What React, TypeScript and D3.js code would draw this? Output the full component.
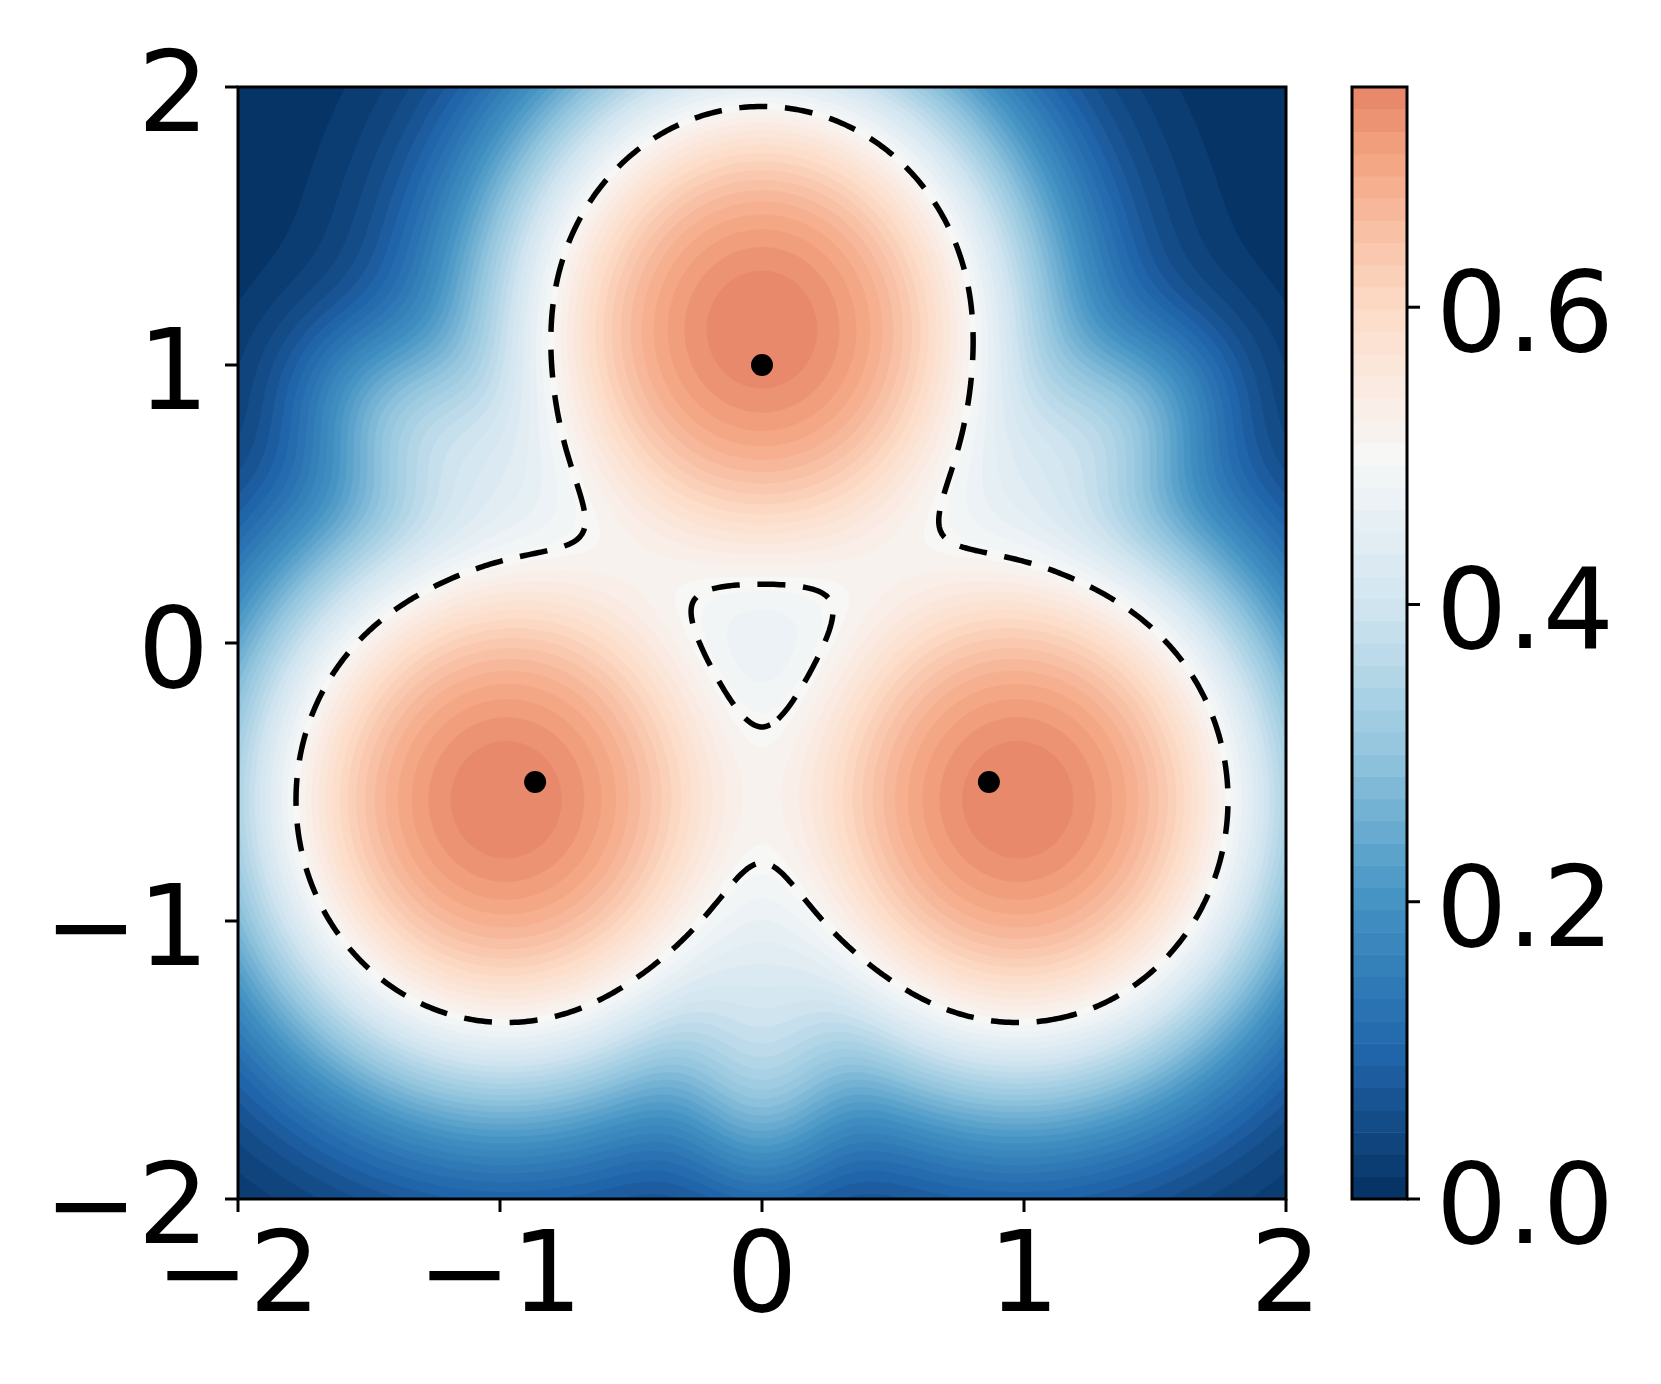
import React, { useMemo } from "react";
import * as d3 from "d3";

// ---------- data ----------
const POINT_X = [0, -0.866, 0.866];
const POINT_Y = [1, -0.5, -0.5];

// field model: three bumps + smaller lobes that fill the gaps between them
const BUMP_ANGLE_DEG = [90, 210, 330];
const BUMP_RADIUS = 1.13;
const BUMP_WIDTH = 0.505;
const GAP_ANGLE_DEG = [30, 150, 270];
const GAP_RADIUS = 1.45;
const GAP_RADIAL_WIDTH = 0.3;
const GAP_TANGENT_WIDTH = 0.2;
const GAP_WEIGHT = 0.085;
const HILL_A = 1.0489;
const HILL_K = 0.3204;
const HILL_G = 0.8;

const CONTOUR_LEVEL = [0.5];
const N_BANDS = 50;

const X_TICKS = [-2, -1, 0, 1, 2];
const Y_TICKS = [-2, -1, 0, 1, 2];
const CBAR_TICKS = [0, 0.2, 0.4, 0.6];

const RDBU = ["#67001f", "#b2182b", "#d6604d", "#f4a582", "#fddbc7", "#f7f7f7", "#d1e5f0", "#92c5de", "#4393c3", "#2166ac", "#053061"];

// ---------- layout ----------
const W = 1661, H = 1384;
const PLOT = { left: 238, top: 87, right: 1286, bottom: 1199 };
const CBAR = { left: 1352, right: 1407 };
const FONT = 112;
const TICK = 13;
const LW = 3;

const rad = (a: number) => (a * Math.PI) / 180;
const bumps = BUMP_ANGLE_DEG.map((a) => [BUMP_RADIUS * Math.cos(rad(a)), BUMP_RADIUS * Math.sin(rad(a))]);
const gaps = GAP_ANGLE_DEG.map((a) => [Math.cos(rad(a)), Math.sin(rad(a))]);

function field(x: number, y: number) {
  let h = 0;
  for (const [cx, cy] of bumps) {
    const d2 = (x - cx) ** 2 + (y - cy) ** 2;
    h += Math.exp(-d2 / (2 * BUMP_WIDTH * BUMP_WIDTH));
  }
  for (const [ux, uy] of gaps) {
    const rho = x * ux + y * uy - GAP_RADIUS;
    const t = -x * uy + y * ux;
    h += GAP_WEIGHT * Math.exp(-(rho * rho) / (2 * GAP_RADIAL_WIDTH ** 2) - (t * t) / (2 * GAP_TANGENT_WIDTH ** 2));
  }
  return HILL_A / (1 + Math.pow(HILL_K / Math.max(h, 1e-300), HILL_G));
}

const cmapScale = d3
  .scaleLinear<string>()
  .domain(d3.range(11).map((i) => i / 10))
  .range(RDBU.slice().reverse())
  .interpolate(d3.interpolateRgb)
  .clamp(true);

export default function App() {
  const N = 320;
  const xScale = d3.scaleLinear().domain([-2, 2]).range([PLOT.left, PLOT.right]);
  const yScale = d3.scaleLinear().domain([-2, 2]).range([PLOT.bottom, PLOT.top]);

  const { values, levels, zmax } = useMemo(() => {
    const v = new Float64Array(N * N);
    let mx = -Infinity;
    for (let j = 0; j < N; j++) {
      const y = 2 - ((j + 0.5) * 4) / N;
      for (let i = 0; i < N; i++) {
        const x = -2 + ((i + 0.5) * 4) / N;
        const f = field(x, y);
        v[j * N + i] = f;
        if (f > mx) mx = f;
      }
    }
    const lv = d3.range(N_BANDS + 1).map((k) => (k * mx) / N_BANDS);
    return { values: Array.from(v), levels: lv, zmax: mx };
  }, []);

  const proj = d3.geoTransform({
    point(x: number, y: number) {
      (this as any).stream.point(xScale(-2 + (x * 4) / N), yScale(2 - (y * 4) / N));
    },
  });
  const path = d3.geoPath(proj);

  const bandColor = (i: number) => cmapScale((levels[i] + levels[i + 1]) / 2);
  const fills = d3.contours().size([N, N]).thresholds(levels.slice(1, N_BANDS))(values);
  const dashed = d3.contours().size([N, N]).thresholds(CONTOUR_LEVEL)(values);

  const cScale = d3.scaleLinear().domain([0, zmax]).range([PLOT.bottom, PLOT.top]);
  const fmtAxis = d3.format("d");
  const fmtCbar = d3.format(".1f");

  return (
    <svg width={W} height={H} style={{ position: "absolute", left: 0, top: 0, background: "#fff" }} fontFamily="DejaVu Sans">
      <rect x={0} y={0} width={W} height={H} fill="#fff" />
      <rect x={PLOT.left} y={PLOT.top} width={PLOT.right - PLOT.left} height={PLOT.bottom - PLOT.top} fill={bandColor(0)} />
      {fills.map((c, k) => (
        <path key={k} d={path(c as any) || ""} fill={bandColor(k + 1)} fillRule="evenodd" stroke={bandColor(k + 1)} strokeWidth={0.6} />
      ))}
      {dashed.map((c, k) => (
        <path key={"d" + k} d={path(c as any) || ""} fill="none" stroke="#000" strokeWidth={5.5} strokeDasharray="28 17.7" />
      ))}
      {POINT_X.map((px, k) => (
        <circle key={"p" + k} cx={xScale(px)} cy={yScale(POINT_Y[k])} r={11} fill="#000" />
      ))}
      <rect x={PLOT.left} y={PLOT.top} width={PLOT.right - PLOT.left} height={PLOT.bottom - PLOT.top} fill="none" stroke="#000" strokeWidth={LW} />
      {X_TICKS.map((t) => (
        <g key={"x" + t}>
          <line x1={xScale(t)} x2={xScale(t)} y1={PLOT.bottom} y2={PLOT.bottom + TICK} stroke="#000" strokeWidth={LW} />
          <text x={xScale(t)} y={PLOT.bottom + 112} textAnchor="middle" fontSize={FONT} fill="#000">
            {fmtAxis(t)}
          </text>
        </g>
      ))}
      {Y_TICKS.map((t) => (
        <g key={"y" + t}>
          <line x1={PLOT.left - TICK} x2={PLOT.left} y1={yScale(t)} y2={yScale(t)} stroke="#000" strokeWidth={LW} />
          <text x={PLOT.left - TICK - 16} y={yScale(t) + 44} textAnchor="end" fontSize={FONT} fill="#000">
            {fmtAxis(t)}
          </text>
        </g>
      ))}
      {levels.slice(0, N_BANDS).map((l, i) => (
        <rect key={"cb" + i} x={CBAR.left} width={CBAR.right - CBAR.left} y={cScale(levels[i + 1])} height={cScale(l) - cScale(levels[i + 1]) + 0.5} fill={bandColor(i)} />
      ))}
      <rect x={CBAR.left} y={PLOT.top} width={CBAR.right - CBAR.left} height={PLOT.bottom - PLOT.top} fill="none" stroke="#000" strokeWidth={LW} />
      {CBAR_TICKS.map((t) => (
        <g key={"c" + t}>
          <line x1={CBAR.right} x2={CBAR.right + TICK} y1={cScale(t)} y2={cScale(t)} stroke="#000" strokeWidth={LW} />
          <text x={CBAR.right + TICK + 16} y={cScale(t) + 44} textAnchor="start" fontSize={FONT} fill="#000">
            {fmtCbar(t)}
          </text>
        </g>
      ))}
    </svg>
  );
}
